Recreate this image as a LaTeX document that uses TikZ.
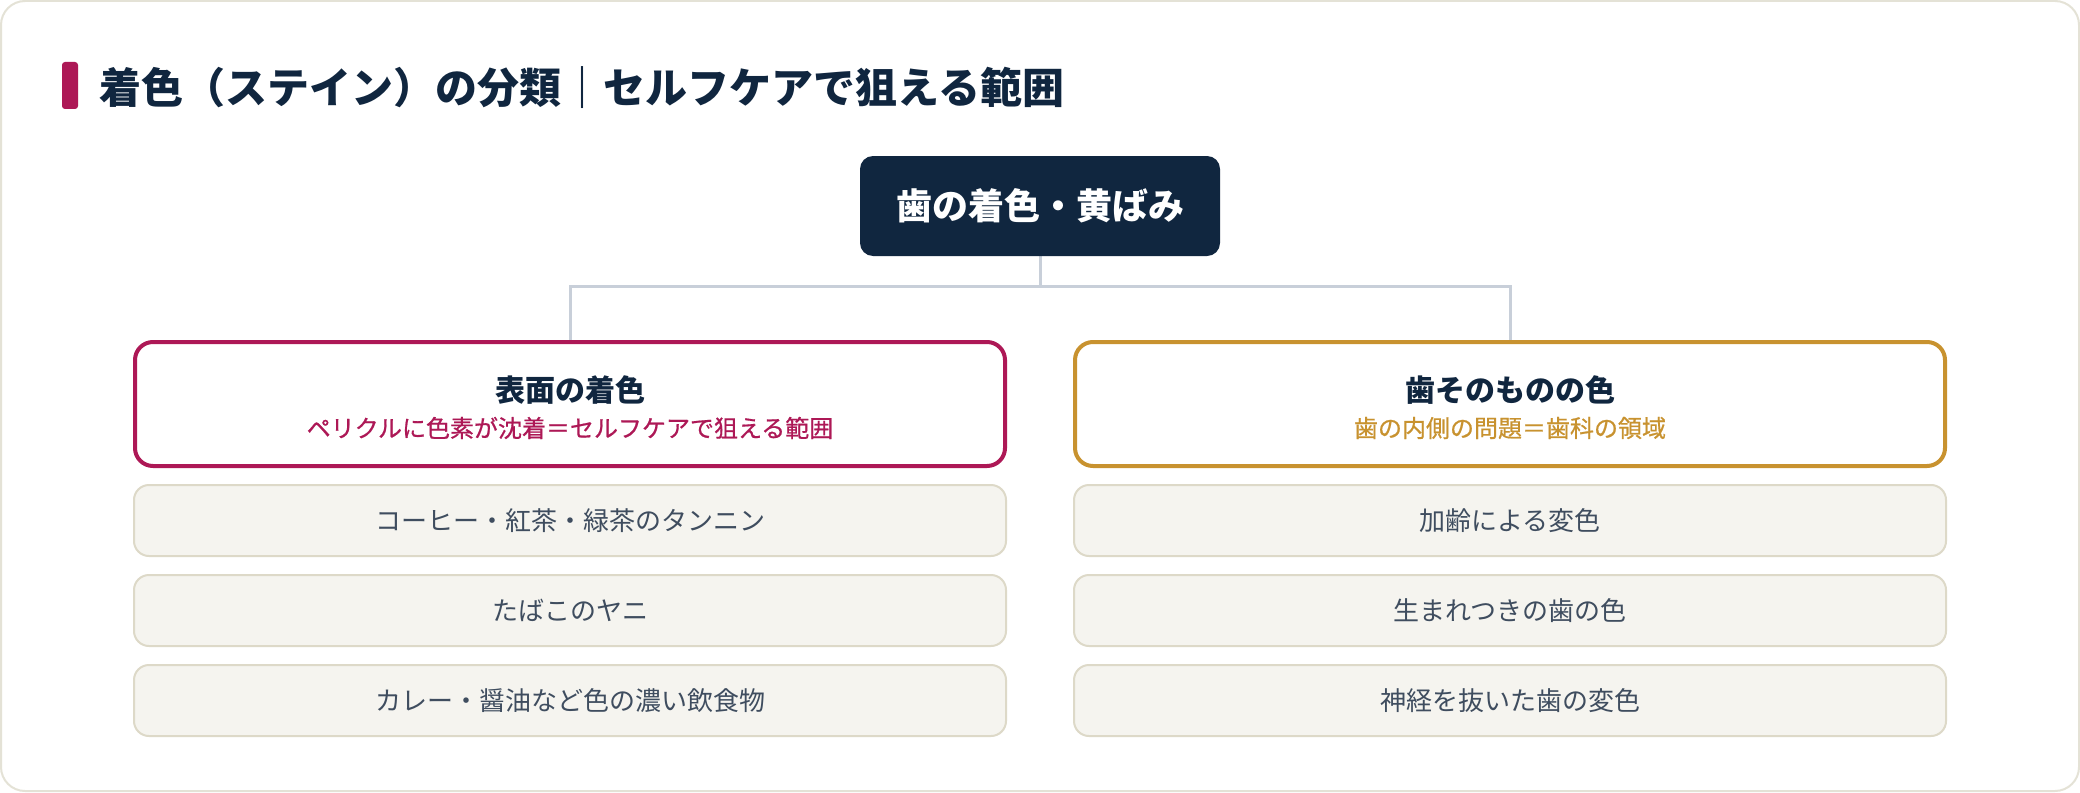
\documentclass[tikz,border=0pt]{standalone}
\usepackage{fontspec}
\setmainfont{Noto Sans CJK JP}
\newfontfamily\jpsemi{Noto Sans CJK JP}[FakeBold=0.7]
\usetikzlibrary{positioning}
\definecolor{navy}{HTML}{10263F}
\definecolor{crim}{HTML}{AD1856}
\definecolor{gold}{HTML}{C8922F}
\definecolor{connc}{HTML}{C8CFD9}
\definecolor{itemfill}{HTML}{F5F4EF}
\definecolor{itemline}{HTML}{DDD9C8}
\definecolor{itemtext}{HTML}{3F4D5F}
\definecolor{cardline}{HTML}{E4E2D6}
\pgfdeclarelayer{cardlayer}
\pgfdeclarelayer{connlayer}
\pgfsetlayers{cardlayer,connlayer,main}
\tikzset{
  rootbox/.style={rectangle, rounded corners=6.5pt, fill=navy, text=white,
    minimum width=180pt, minimum height=50pt, inner sep=0pt,
    font=\bfseries\fontsize{18}{22}\selectfont},
  headbox/.style={rectangle, rounded corners=9pt, draw=#1, line width=2pt, fill=white,
    minimum width=435pt, minimum height=62pt, inner sep=0pt},
  headtitle/.style={inner sep=0pt, text=navy, font=\bfseries\fontsize{15}{18}\selectfont},
  headsub/.style={inner sep=0pt, text=#1, font=\jpsemi\fontsize{12}{14}\selectfont},
  itembox/.style={rectangle, rounded corners=7.5pt, draw=itemline, line width=1pt, fill=itemfill,
    minimum width=436pt, minimum height=35.5pt, inner sep=0pt, text=itemtext,
    font=\fontsize{13}{16}\selectfont},
  conn/.style={draw=connc, line width=1.5pt},
  titletext/.style={inner sep=0pt, anchor=west, text=navy, font=\bfseries\fontsize{21}{24}\selectfont}
}
\begin{document}
\begin{tikzpicture}[x=0.5pt, y=-0.5pt]
\useasboundingbox (0,0) rectangle (2080,792);
\begin{pgfonlayer}{cardlayer}
  \draw[draw=cardline, line width=1pt, fill=white, rounded corners=12pt] (1,1) rectangle (2079,791);
\end{pgfonlayer}
% title
\fill[crim, rounded corners=1.5pt] (62,62) rectangle (78,109);
\node[titletext] (title) at (99,88) {着色（ステイン）の分類｜セルフケアで狙える範囲};
% root
\node[rootbox] (root) at (1040,206) {歯の着色・黄ばみ};
\coordinate (J) at (1040,286);
% headers
\node[headbox=crim] (L) at (570,404) {};
\node[headtitle] (Lt) at (570,390) {表面の着色};
\node[headsub=crim] (Ls) at (570,428) {ペリクルに色素が沈着＝セルフケアで狙える範囲};
\node[headbox=gold] (R) at (1510,404) {};
\node[headtitle] (Rt) at (1510,390) {歯そのものの色};
\node[headsub=gold] (Rs) at (1510,428) {歯の内側の問題＝歯科の領域};
% items
\node[itembox] (L1) at (570,520.5) {コーヒー・紅茶・緑茶のタンニン};
\node[itembox] (L2) at (570,610.5) {たばこのヤニ};
\node[itembox] (L3) at (570,700.5) {カレー・醤油など色の濃い飲食物};
\node[itembox] (R1) at (1510,520.5) {加齢による変色};
\node[itembox] (R2) at (1510,610.5) {生まれつきの歯の色};
\node[itembox] (R3) at (1510,700.5) {神経を抜いた歯の変色};
% connectors
\begin{pgfonlayer}{connlayer}
  \draw[conn] (root.south) -- (J);
  \draw[conn] (J) -| (L.north);
  \draw[conn] (J) -| (R.north);
\end{pgfonlayer}
\end{tikzpicture}
\end{document}
